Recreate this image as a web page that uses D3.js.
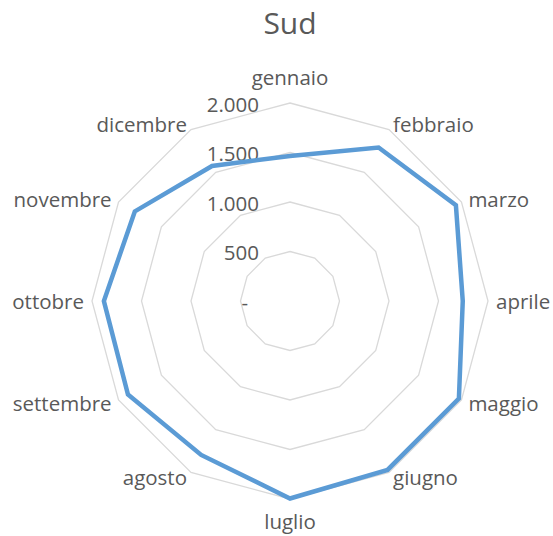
<!DOCTYPE html>
<html>
<head>
<meta charset="utf-8">
<script src="https://cdn.jsdelivr.net/npm/d3@7"></script>
<style>
	body { margin: 0; background: #fff; }
	text { font-family: "Open Sans", sans-serif; fill: #595959; }
</style>
</head>
<body>
<svg id="chart" width="553" height="536"></svg>
<script>

var months = ["gennaio","febbraio","marzo","aprile","maggio","giugno","luglio","agosto","settembre","ottobre","novembre","dicembre"];
var sud = [1465, 1790, 1935, 1745, 1970, 1970, 1995, 1795, 1890, 1880, 1810, 1575];
var ticks = [0, 500, 1000, 1500, 2000];
var tickLabels = ["-", "500", "1.000", "1.500", "2.000"];

var svg = d3.select("#chart"),
	cx = 290, cy = 301;

var r = d3.scaleLinear().domain([0, 2000]).range([0, 198]);
var angle = d3.scalePoint().domain(months).range([0, 2 * Math.PI * 11 / 12]);

var g = svg.append("g").attr("transform", "translate(" + cx + "," + cy + ")");

var ring = d3.lineRadial()
	.angle(function(d) { return angle(d); })
	.curve(d3.curveLinearClosed);

// grid polygons
g.selectAll(".grid")
	.data(ticks.slice(1))
	.enter().append("path")
	.attr("class", "grid")
	.attr("d", function(t) { return ring.radius(r(t))(months); })
	.attr("fill", "none")
	.attr("stroke", "#d9d9d9")
	.attr("stroke-width", 1.3);

// tick labels (the zero dash keeps Excel's trailing padding)
g.selectAll(".tick")
	.data(ticks)
	.enter().append("text")
	.attr("x", function(t) { return t === 0 ? -42 : -31; })
	.attr("y", function(t) { return -r(t) + 1.5; })
	.attr("dy", "0.36em")
	.attr("text-anchor", "end")
	.style("font-size", "20.5px")
	.text(function(t, i) { return tickLabels[i]; });

// series
var line = d3.lineRadial()
	.angle(function(d, i) { return angle(months[i]); })
	.radius(function(d) { return r(d); })
	.curve(d3.curveLinearClosed);

g.append("path")
	.datum(sud)
	.attr("d", line)
	.attr("fill", "none")
	.attr("stroke", "#5b9bd5")
	.attr("stroke-width", 4.5)
	.attr("stroke-linejoin", "miter");

// category labels, placed just outside the outer ring
g.selectAll(".cat")
	.data(months)
	.enter().append("text")
	.attr("class", "cat")
	.each(function(m) {
		var a = angle(m), s = Math.sin(a), c = Math.cos(a), R = r(2000);
		var vx = R * s, vy = -R * c;
		var el = d3.select(this);
		if (Math.abs(s) < 0.01) {
			el.attr("x", vx)
				.attr("y", c > 0 ? vy - 18 : vy + 30)
				.attr("text-anchor", "middle");
		} else {
			el.attr("x", vx + 8 * s)
				.attr("y", vy + 2 - 6 * c)
				.attr("dy", "0.27em")
				.attr("text-anchor", s > 0 ? "start" : "end");
		}
	})
	.style("font-size", "20.5px")
	.text(function(m) { return m; });

svg.append("text")
	.attr("x", 290)
	.attr("y", 34)
	.attr("text-anchor", "middle")
	.style("font-size", "30px")
	.text("Sud");

</script>
</body>
</html>
